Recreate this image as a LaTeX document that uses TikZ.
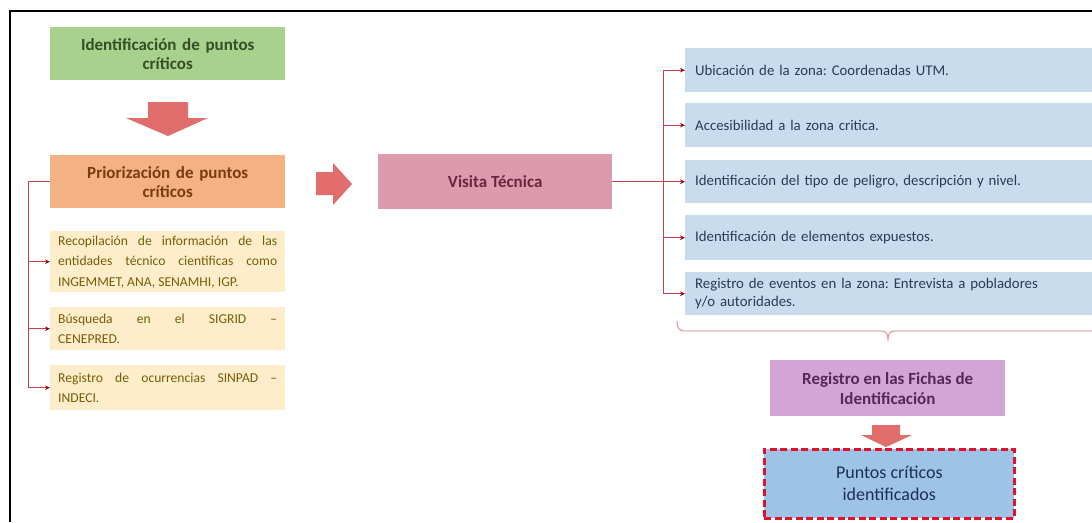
\documentclass[tikz,border=0pt]{standalone}
\usepackage{fontspec}
\setmainfont{Carlito}
\usetikzlibrary{arrows.meta}
\frenchspacing
\hyphenpenalty=10000
\exhyphenpenalty=10000
\definecolor{gfill}{HTML}{A9D18E}
\definecolor{gtext}{HTML}{344F25}
\definecolor{ofill}{HTML}{F4B183}
\definecolor{otext}{HTML}{7A3A12}
\definecolor{yfill}{HTML}{FDEDCB}
\definecolor{ytext}{HTML}{7A5C05}
\definecolor{pfill}{HTML}{DB9BAD}
\definecolor{ptext}{HTML}{6E2440}
\definecolor{bfill}{HTML}{C9DCEE}
\definecolor{btext}{HTML}{2C3A55}
\definecolor{vfill}{HTML}{D3A4D6}
\definecolor{vtext}{HTML}{55285A}
\definecolor{ffill}{HTML}{9DC3E6}
\definecolor{ftext}{HTML}{1F2F4F}
\definecolor{fborder}{HTML}{E3102C}
\definecolor{bigarrow}{HTML}{E06C6C}
\definecolor{conncol}{HTML}{C8404A}
\definecolor{tipcol}{HTML}{A00010}
\definecolor{bracecol}{HTML}{D27A7A}
\tikzset{
  box/.style={rectangle, inner sep=0pt, anchor=north west},
  headbox/.style={box, font=\fontsize{17}{19}\selectfont\bfseries, align=center},
  ybox/.style={box, fill=yfill, minimum width=235pt},
  ytextnode/.style={anchor=west, text=ytext, font=\fontsize{13.6}{20.5}\selectfont, align=justify, text width=219pt, inner sep=0pt},
  bbox/.style={box, fill=bfill, text=btext, font=\fontsize{14.8}{18}\selectfont, align=left, minimum width=405pt, text width=390pt, inner xsep=10pt, inner ysep=0pt},
  conn/.style={draw=conncol, line width=0.8pt},
  arr/.style={conn, -{Stealth[length=5pt,width=4.5pt,fill=tipcol,color=tipcol]}},
  blockarrow/.style={fill=bigarrow, draw=none},
}
\begin{document}
\begin{tikzpicture}[x=1pt,y=-1pt]
\useasboundingbox (0,0) rectangle (1092,522);
% frame (top and left only visible)
\draw[line width=1.6pt, black] (10,522) -- (10,11) -- (1092,11);

% left column
\node[headbox, fill=gfill, text=gtext, minimum width=235pt, minimum height=53pt, text width=225pt] (ident) at (50,27) {Identificación de puntos\\críticos};
\node[headbox, fill=ofill, text=otext, minimum width=235pt, minimum height=53pt, text width=225pt] (prio) at (50,155) {Priorización de puntos\\críticos};

\node[ybox, minimum height=61pt] (y1) at (50,231) {};
\node[ytextnode] (t1) at ([xshift=8pt]y1.west) {Recopilación de información de las entidades técnico cientificas como INGEMMET, ANA, SENAMHI, IGP.};
\node[ybox, minimum height=43pt] (y2) at (50,307) {};
\node[ytextnode] (t2) at ([xshift=8pt]y2.west) {Búsqueda en el SIGRID –\linebreak CENEPRED.};
\node[ybox, minimum height=45pt] (y3) at (50,365) {};
\node[ytextnode] (t3) at ([xshift=8pt]y3.west) {Registro de ocurrencias SINPAD –\linebreak INDECI.};

% down arrow 1
\fill[blockarrow] (148,102) -- (188,102) -- (188,118) -- (208,118) -- (168,136) -- (126,118) -- (148,118) -- cycle;
% right arrow
\fill[blockarrow] (316,172) -- (333,172) -- (333,163) -- (352,184) -- (333,205) -- (333,195) -- (316,195) -- cycle;

% left connectors
\coordinate (lb) at (prio.west -| 28,0);
\draw[conn] (prio.west) -- (lb);
\draw[arr] (lb) |- (y1.west);
\draw[arr] (lb) |- (y2.west);
\draw[arr] (lb) |- (y3.west);

% Visita Tecnica
\node[headbox, fill=pfill, text=ptext, minimum width=234pt, minimum height=55pt] (vis) at (378,154) {Visita Técnica};

% blue boxes
\node[bbox, minimum height=44pt] (b1) at (685,48) {Ubicación de la zona: Coordenadas UTM.};
\node[bbox, minimum height=44pt] (b2) at (685,103) {Accesibilidad a la zona critica.};
\node[bbox, minimum height=43pt] (b3) at (685,160) {Identificación del tipo de peligro, descripción y nivel.};
\node[bbox, minimum height=45pt] (b4) at (685,215) {Identificación de elementos expuestos.};
\node[bbox, minimum height=43pt] (b5) at (685,272) {Registro de eventos en la zona: Entrevista a pobladores\\y/o autoridades.};

\coordinate (rb) at (vis.east -| 663,0);
\draw[conn] (vis.east) -- (rb);
\draw[arr] (rb) |- (b1.west);
\draw[arr] (rb) |- (b2.west);
\draw[arr] (rb) |- (b3.west);
\draw[arr] (rb) |- (b4.west);
\draw[arr] (rb) |- (b5.west);

% brace
\draw[draw=bracecol, line width=0.8pt] (677,321) .. controls (677,329) and (679,331) .. (686,331) -- (881,331) .. controls (886,331) and (888,333) .. (888,341) .. controls (888,333) and (890,331) .. (895,331) -- (1092,331);

% Registro en las Fichas
\node[headbox, fill=vfill, text=vtext, minimum width=235pt, minimum height=56pt, font=\fontsize{17}{20}\selectfont\bfseries] (reg) at (770,360) {Registro en las Fichas de\\Identificación};

% small down arrow
\fill[blockarrow] (872,425) -- (900,425) -- (900,435) -- (912,435) -- (886,447) -- (861,435) -- (872,435) -- cycle;

% final box
\node[box, fill=ffill, draw=fborder, line width=2.6pt, dash pattern=on 7pt off 3.5pt, minimum width=250pt, minimum height=69pt, font=\fontsize{18}{22}\selectfont, text=ftext, align=center] (fin) at (763,448) {Puntos críticos\\identificados};
\end{tikzpicture}
\end{document}
